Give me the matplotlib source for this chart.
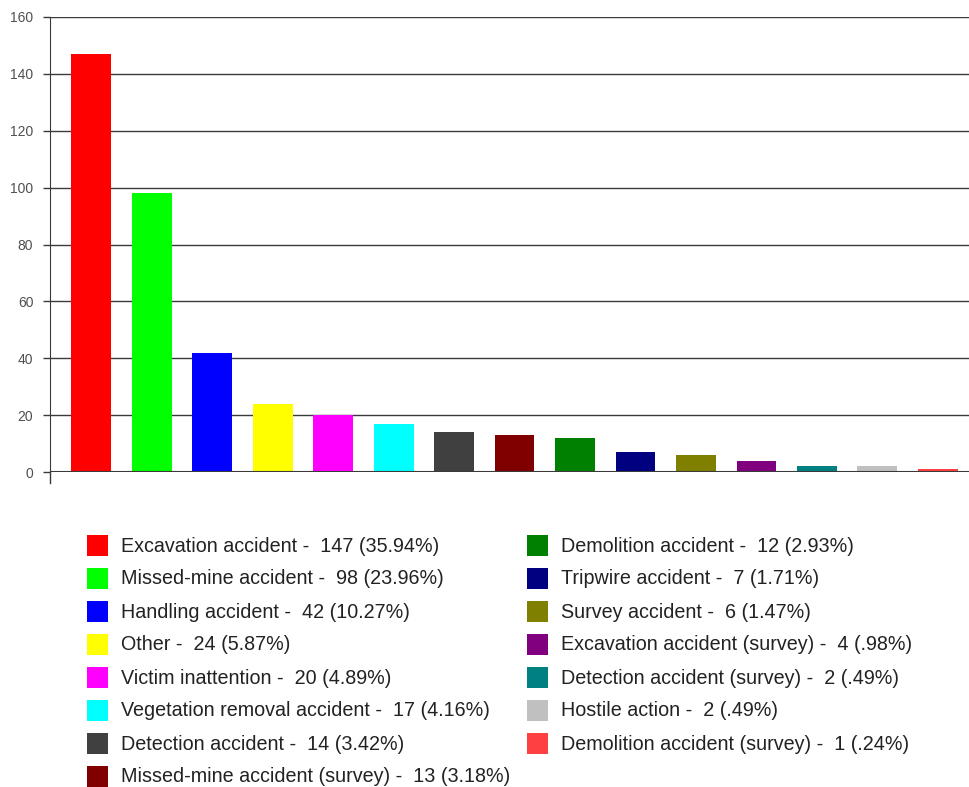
import matplotlib
matplotlib.use("Agg")
import matplotlib.pyplot as plt
from matplotlib.patches import Rectangle

# data
causes = [
    "Excavation accident", "Missed-mine accident", "Handling accident", "Other",
    "Victim inattention", "Vegetation removal accident", "Detection accident",
    "Missed-mine accident (survey)", "Demolition accident", "Tripwire accident",
    "Survey accident", "Excavation accident (survey)", "Detection accident (survey)",
    "Hostile action", "Demolition accident (survey)",
]
counts = [147, 98, 42, 24, 20, 17, 14, 13, 12, 7, 6, 4, 2, 2, 1]
percents = ["35.94%", "23.96%", "10.27%", "5.87%", "4.89%", "4.16%", "3.42%",
            "3.18%", "2.93%", "1.71%", "1.47%", ".98%", ".49%", ".49%", ".24%"]
colors = ["#ff0000", "#00ff00", "#0000ff", "#ffff00", "#ff00ff", "#00ffff",
          "#404040", "#800000", "#008000", "#000080", "#808000", "#800080",
          "#008080", "#c0c0c0", "#ff4040"]
yticks = [0, 20, 40, 60, 80, 100, 120, 140, 160]

plt.rcParams["font.family"] = ["Liberation Sans", "DejaVu Sans"]

W, H = 970, 787
fig = plt.figure(figsize=(W / 100, H / 100), dpi=100)
ax = fig.add_axes([50 / W, 1 - 472 / H, 920 / W, 455 / H])

x = list(range(len(counts)))
bars = ax.bar(x, counts, width=0.66, color=colors, zorder=3)

ax.set_xlim(-0.68, 14.53)
ax.set_ylim(0, 160)
ax.set_yticks(yticks)
ax.set_xticks([])
ax.yaxis.grid(True, color="#3a3a3a", linewidth=1.0, zorder=0)
ax.tick_params(axis="y", length=5, width=1, color="#3a3a3a",
               labelsize=10, labelcolor="#505050", pad=7)
for side in ["top", "right", "bottom"]:
    ax.spines[side].set_visible(False)
ax.spines["left"].set_color("#3a3a3a")
ax.spines["left"].set_bounds(0, 160)
# the y-axis line runs a little below zero
ax.plot([0, 0], [0, -11 / 455], transform=ax.transAxes, color="#3a3a3a",
        linewidth=1.0, clip_on=False)
ax.axhline(0, color="#3a3a3a", linewidth=1.5, zorder=4)

# legend in two columns below the plot
rows_per_col = 8
for i, (name, n, pct, col) in enumerate(zip(causes, counts, percents, colors)):
    c, r = divmod(i, rows_per_col)
    px = 87 + c * 440
    py = 545 + r * 33
    fig.patches.append(Rectangle((px / W, 1 - (py + 11) / H), 21 / W, 21 / H,
                                 transform=fig.transFigure, facecolor=col,
                                 edgecolor="none"))
    fig.text((px + 34) / W, 1 - (py + 1) / H, f"{name} -  {n} ({pct})",
             fontsize=14.2, color="#222222", va="center", ha="left")

fig.savefig("out.png", dpi=100)
